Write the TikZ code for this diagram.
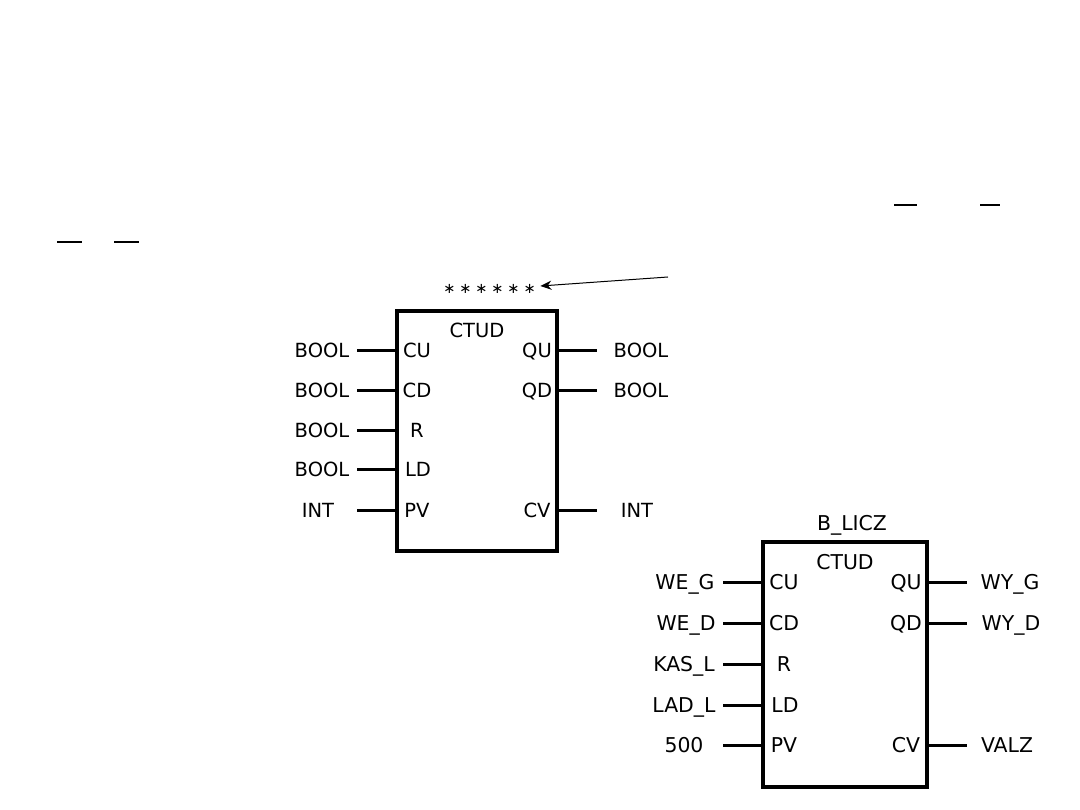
\documentclass[tikz,border=0pt]{standalone}
\usepackage{fontspec}
\setmainfont{DejaVu Sans}
\usetikzlibrary{arrows.meta,positioning}
\tikzset{
  fb/.style    ={draw=black,line width=3.2pt,fill=white,minimum width=#1,inner sep=0pt,outer sep=0pt},
  sigA/.style  ={font=\fontsize{19.5}{22}\selectfont,anchor=base,inner sep=0pt},
  sigB/.style  ={font=\fontsize{20.4}{23}\selectfont,anchor=base,inner sep=0pt},
  wire/.style  ={draw=black,line width=3pt},
  lead/.style  ={-{Stealth[length=11pt,width=9pt]},draw=black,line width=1pt},
  ovr/.style   ={draw=black,line width=2.2pt},
}
\newcommand{\stargap}{\hspace{3.9pt}}
\begin{document}
\begin{tikzpicture}[x=1pt,y=1pt]
\useasboundingbox (0,0) rectangle (1080,-810);

% generic declaration of the counter
\node[fb=160pt,minimum height=240pt,anchor=north west] (decl) at (397,-311) {};
\node[sigA] (declT) at (477,-338) {CTUD};
\node[inner sep=0pt,font=\fontsize{14.5}{17}\selectfont] (stars) at (489.5,-289)
  {∗\stargap∗\stargap∗\stargap∗\stargap∗\stargap∗};
\coordinate (leadS) at (668,-277);
\draw[lead] (leadS) -- ([shift={(4.5,3)}]stars.east);

\foreach \y/\sg/\sx/\pn/\px in {351/BOOL/322/CU/417,391/BOOL/322/CD/417,431/BOOL/322/R/417,
                                470/BOOL/322/LD/418,510/INT/318/PV/417}{
  \node[sigA] (i\pn) at (\sx,-\y-7) {\sg};
  \node[sigA] (p\pn) at (\px,-\y-7) {\pn};
  \coordinate (e\pn) at (357,-\y);
  \draw[wire] (e\pn) -- (e\pn -| decl.west);
}
\foreach \y/\sg/\sx/\pn/\px in {351/BOOL/641/QU/537,391/BOOL/641/QD/537,510/INT/637/CV/537}{
  \node[sigA] (o\pn) at (\sx,-\y-7) {\sg};
  \node[sigA] (p\pn) at (\px,-\y-7) {\pn};
  \coordinate (e\pn) at (597,-\y);
  \draw[wire] (e\pn -| decl.east) -- (e\pn);
}

% instance B_LICZ with its variables
\node[fb=164pt,minimum height=245pt,anchor=north west] (inst) at (763,-542) {};
\node[sigB] (instT) at (845,-569) {CTUD};
\node[sigB] (instN) at (852,-530) {B\_LICZ};

\foreach \y/\sg/\sx/\pn/\px in {582/WE\_G/685/CU/784,623/WE\_D/686/CD/784,664/KAS\_L/684/R/784,
                                705/LAD\_L/684/LD/785,745/500/684/PV/784}{
  \node[sigB] (bi\pn) at (\sx,-\y-7) {\sg};
  \node[sigB] (bp\pn) at (\px,-\y-7) {\pn};
  \coordinate (be\pn) at (723,-\y);
  \draw[wire] (be\pn) -- (be\pn -| inst.west);
}
\foreach \y/\sg/\sx/\pn/\px in {582/WY\_G/1010/QU/906,623/WY\_D/1011/QD/906,745/VALZ/1007/CV/906}{
  \node[sigB] (bo\pn) at (\sx,-\y-7) {\sg};
  \node[sigB] (bp\pn) at (\px,-\y-7) {\pn};
  \coordinate (be\pn) at (967,-\y);
  \draw[wire] (be\pn -| inst.east) -- (be\pn);
}

% negation bars
\draw[ovr] (57,-242) -- (82,-242);
\draw[ovr] (114,-242) -- (139,-242);
\draw[ovr] (894,-205) -- (917,-205);
\draw[ovr] (980,-205) -- (1000,-205);
\end{tikzpicture}
\end{document}
